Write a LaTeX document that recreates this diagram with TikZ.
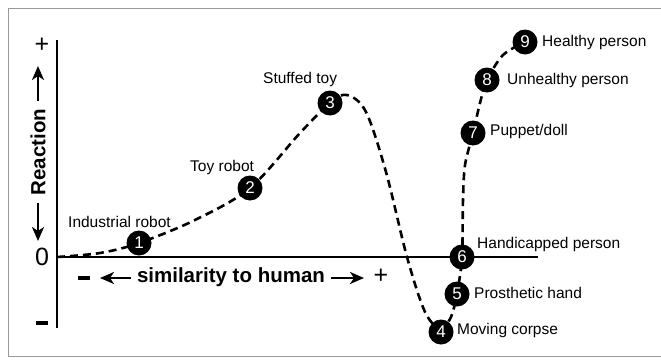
\documentclass[tikz,border=0pt]{standalone}
\usepackage{fontspec}
\setmainfont{Liberation Sans}
\usetikzlibrary{arrows.meta}
\begin{document}
\begin{tikzpicture}[x=1pt,y=-1pt,
  num/.style={circle, fill=black, minimum size=25pt, inner sep=0pt, text=white, font=\fontsize{17}{17}\selectfont},
  lbl/.style={anchor=west, inner sep=0pt, font=\fontsize{15.5}{15.5}\selectfont},
  big/.style={inner sep=0pt, font=\fontsize{20.5}{20.5}\selectfont\bfseries},
  tick/.style={inner sep=0pt, font=\fontsize{25}{25}\selectfont},
  bar/.style={line width=3.4pt},
  curve/.style={line width=2.6pt, dash pattern=on 8pt off 5pt},
  arr/.style={line width=2.2pt, -{Stealth[length=14pt,width=12pt,inset=4pt]}},
  axis/.style={line width=1.4pt}]
\useasboundingbox (0,0) rectangle (661,359);
\fill[white] (0,0) rectangle (661,359);
% frame
\draw[line width=1.5pt, black!40] (661,8.5) -- (8.5,8.5) -- (8.5,356.5) -- (661,356.5);
% points
\coordinate (o) at (57,257);
\coordinate (p1) at (139,243);
\coordinate (p2) at (250,188);
\coordinate (p3) at (330,103);
\coordinate (p4) at (441,332);
\coordinate (p5) at (457,294);
\coordinate (p6) at (462,257);
\coordinate (p7) at (473,133);
\coordinate (p8) at (487,80);
\coordinate (p9) at (525,42);
% axes
\coordinate (ytop) at (57,40);
\coordinate (ybot) at (57,328);
\coordinate (xend) at (538,257);
\draw[axis] (ytop) -- (ybot);
\draw[axis] (o) -- (xend);
% curve
\draw[curve] plot[smooth, tension=0.55] coordinates {(o) (100,253) (p1) (195,220) (p2) (300,133) (p3) (347,95) (366,112) (386,172) (407,257) (425,312) (p4)};
\draw[curve] plot[smooth, tension=0.5] coordinates {(p4) (451,317) (p5) (p6) (463,200) (465,165) (p7) (480,103) (p8) (503,55) (p9)};
% circles
\node[num] (n1) at (p1) {1};
\node[num] (n2) at (p2) {2};
\node[num] (n3) at (p3) {3};
\node[num] (n4) at (p4) {4};
\node[num] (n5) at (p5) {5};
\node[num] (n6) at (p6) {6};
\node[num] (n7) at (p7) {7};
\node[num] (n8) at (p8) {8};
\node[num] (n9) at (p9) {9};
% labels
\node[lbl] (l1) at (68,222) {Industrial robot};
\node[lbl] (l2) at (190,167) {Toy robot};
\node[lbl] (l3) at (263,79) {Stuffed toy};
\node[lbl] (l4) at (457,330) {Moving corpse};
\node[lbl] (l5) at (474,293) {Prosthetic hand};
\node[lbl] (l6) at (477,244) {Handicapped person};
\node[lbl] (l7) at (490,131) {Puppet/doll};
\node[lbl] (l8) at (507,80) {Unhealthy person};
\node[lbl] (l9) at (542,42) {Healthy person};
% tick labels
\node[tick] (tp) at (42,45) {+};
\node[tick] (t0) at (42,257) {0};
\coordinate (tma) at (36,323);
\coordinate (tmb) at (48,323);
\draw[bar] (tma) -- (tmb);
% x axis label
\node[big] (sim) at (231,277) {similarity to human};
\coordinate (xma) at (78,278);
\coordinate (xmb) at (90,278);
\draw[bar] (xma) -- (xmb);
\node[tick] (xp) at (381,276) {+};
\coordinate (xl) at (100,278);
\coordinate (xr) at (364,278);
\draw[arr] ([xshift=-6pt,yshift=-1pt]sim.west) -- (xl);
\draw[arr] ([xshift=6pt,yshift=-1pt]sim.east) -- (xr);
% y axis label
\node[big, rotate=90] (rea) at (38,152) {Reaction};
\coordinate (yu) at (38,66);
\coordinate (yd) at (38,241);
\draw[arr] ([yshift=8pt]rea.east) -- (yu);
\draw[arr] ([yshift=-8pt]rea.west) -- (yd);
\end{tikzpicture}
\end{document}
